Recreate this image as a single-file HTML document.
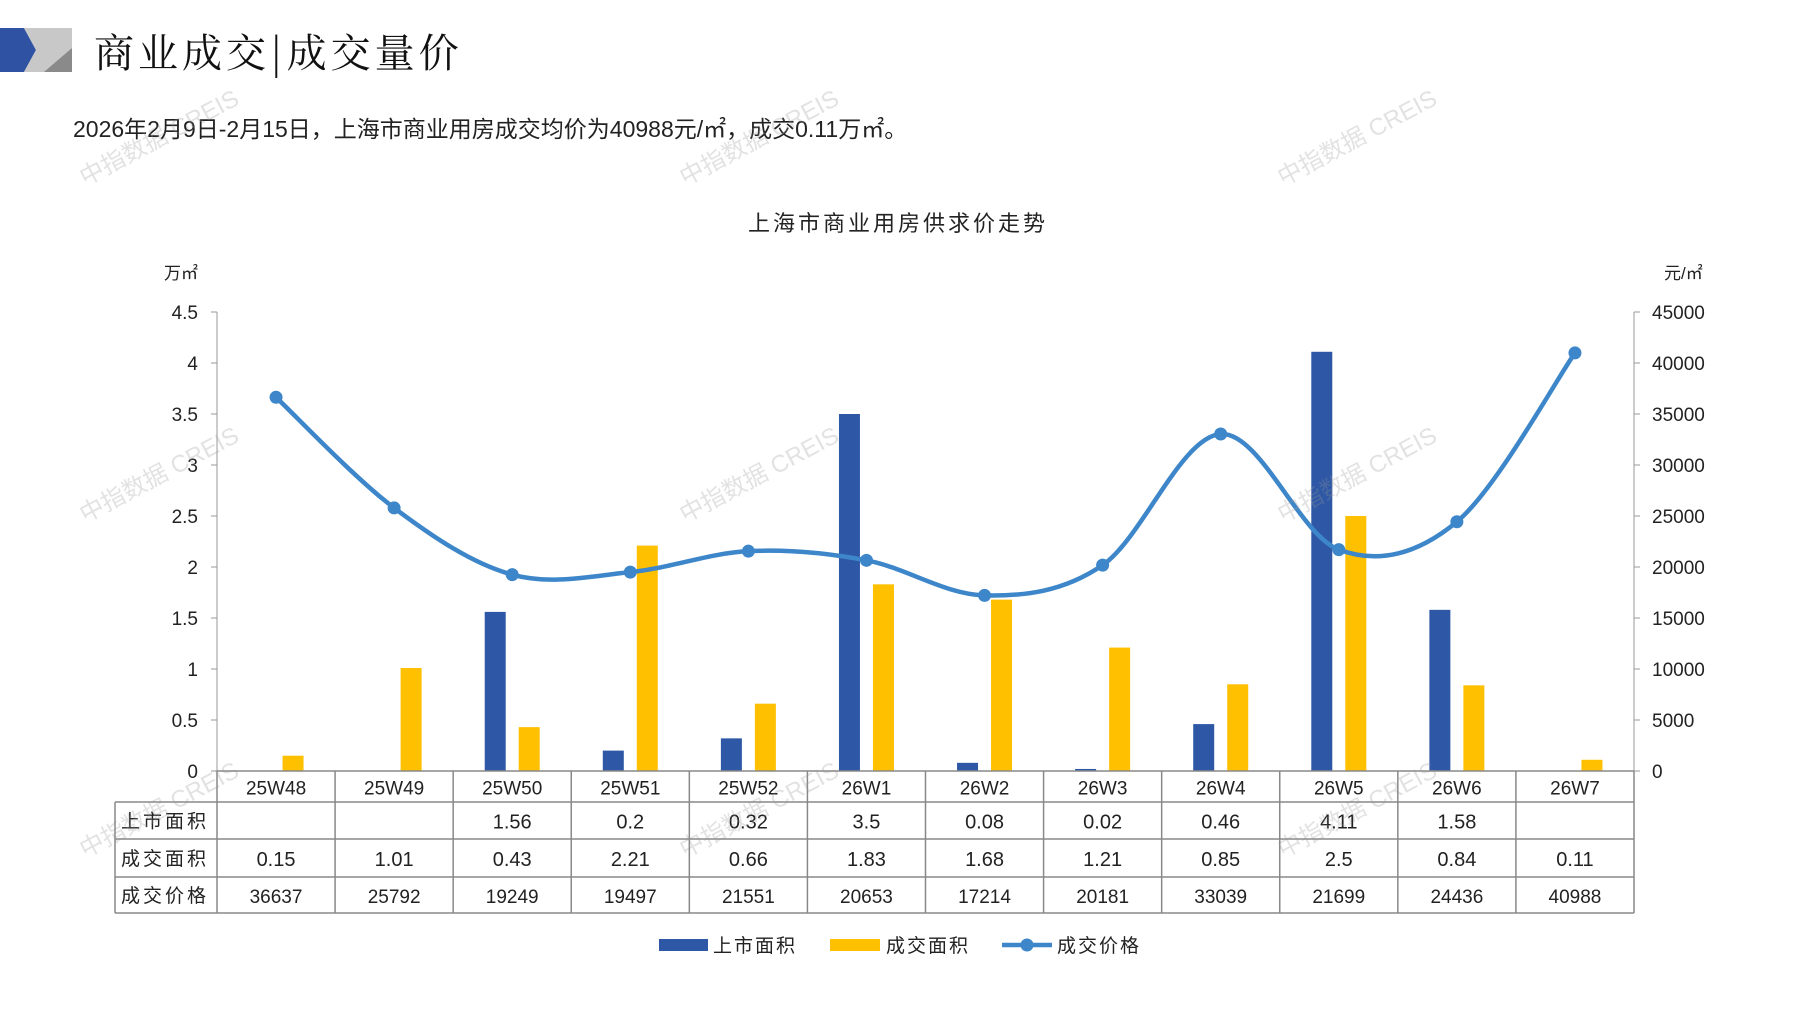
<!DOCTYPE html>
<html><head><meta charset="utf-8">
<style>
html,body{margin:0;padding:0;background:#fff;}
body{width:1797px;height:1010px;overflow:hidden;position:relative;font-family:"Liberation Sans","Noto Sans CJK SC",sans-serif;}
.wm{position:absolute;color:rgba(150,150,150,0.28);font-size:24px;transform:rotate(-28deg);white-space:nowrap;pointer-events:none;}
</style></head>
<body>
<svg style="position:absolute;left:0;top:28px" width="74" height="44">
<polygon points="0,0 24,0 36,22 24,44 0,44" fill="#2f52a3"/>
<polygon points="24,0 72,0 72,44 24,44 36,22" fill="#c8c8c8"/>
<polygon points="44,44 72,20 72,44" fill="#8a8a8a"/>
</svg>
<div style="position:absolute;left:94px;top:22px;font-size:40px;font-family:'Noto Serif CJK SC',serif;color:#111;letter-spacing:4px">商业成交|成交量价</div>
<div style="position:absolute;left:73px;top:110px;font-size:23px;color:#222;font-family:'Liberation Sans','Noto Sans CJK SC',sans-serif;">2026年2月9日-2月15日，上海市商业用房成交均价为40988元/㎡，成交0.11万㎡。</div>

<svg id="chart" style="position:absolute;left:0;top:0" width="1797" height="1010"></svg>

<div class="wm" style="left:70px;top:118px">中指数据 CREIS</div>
<div class="wm" style="left:670px;top:118px">中指数据 CREIS</div>
<div class="wm" style="left:1268px;top:118px">中指数据 CREIS</div>
<div class="wm" style="left:70px;top:455px">中指数据 CREIS</div>
<div class="wm" style="left:670px;top:455px">中指数据 CREIS</div>
<div class="wm" style="left:1268px;top:455px">中指数据 CREIS</div>
<div class="wm" style="left:70px;top:790px">中指数据 CREIS</div>
<div class="wm" style="left:670px;top:790px">中指数据 CREIS</div>
<div class="wm" style="left:1268px;top:790px">中指数据 CREIS</div>

<script>
const categories = ["25W48","25W49","25W50","25W51","25W52","26W1","26W2","26W3","26W4","26W5","26W6","26W7"];
const supply = [null,null,1.56,0.2,0.32,3.5,0.08,0.02,0.46,4.11,1.58,null];
const deals = [0.15,1.01,0.43,2.21,0.66,1.83,1.68,1.21,0.85,2.5,0.84,0.11];
const prices = [36637,25792,19249,19497,21551,20653,17214,20181,33039,21699,24436,40988];
const leftTicks = ["0","0.5","1","1.5","2","2.5","3","3.5","4","4.5"];
const rightTicks = ["0","5000","10000","15000","20000","25000","30000","35000","40000","45000"];

const NS="http://www.w3.org/2000/svg";
const svg=document.getElementById('chart');
const L=217, R=1634, Y0=771, YT=312;
const colW=(R-L)/categories.length;
const yL=v=>Y0-(v/4.5)*(Y0-YT);
const yR=v=>Y0-(v/45000)*(Y0-YT);
const xC=i=>L+colW*(i+0.5);
const F='"Liberation Sans","Noto Sans CJK SC",sans-serif';
function mk(tag,attrs,parent){const e=document.createElementNS(NS,tag);for(const k in attrs)e.setAttribute(k,attrs[k]);(parent||svg).appendChild(e);return e;}
function txt(s,x,y,size,anchor,name){const t=mk('text',{x:x,y:y,'font-size':size,'text-anchor':anchor||'middle','font-family':F,fill:'#222'});t.textContent=s;


return t;}

txt("上海市商业用房供求价走势",898,231,22,'middle','chart-title').setAttribute('letter-spacing','3');
txt("万㎡",164,279,17,'start','left-axis-unit');
txt("元/㎡",1664,279,17,'start','right-axis-unit');

let a=mk('line',{x1:L,y1:YT,x2:L,y2:Y0,stroke:'#999','stroke-width':1});

a=mk('line',{x1:R,y1:YT,x2:R,y2:Y0,stroke:'#999','stroke-width':1});

leftTicks.forEach((s,i)=>{const y=yL(parseFloat(s));
 mk('line',{x1:L-6,y1:y,x2:L,y2:y,stroke:'#999'});
 txt(s,198,y+7,19,'end','left-tick-label');});
rightTicks.forEach((s,i)=>{const y=yR(parseFloat(s));
 mk('line',{x1:R,y1:y,x2:R+6,y2:y,stroke:'#999'});
 txt(s,1652,y+7,19,'start','right-tick-label');});

const bw=21;
categories.forEach((c,i)=>{
 if(supply[i]!=null){const b=mk('rect',{x:xC(i)-17-bw/2,y:yL(supply[i]),width:bw,height:Y0-yL(supply[i]),fill:'#2e58a6'});
  }
 const d=mk('rect',{x:xC(i)+17-bw/2,y:yL(deals[i]),width:bw,height:Y0-yL(deals[i]),fill:'#ffc000'});
 
});

const pts=prices.map((v,i)=>[xC(i),yR(v)]);
let p='M'+pts[0][0]+','+pts[0][1];
for(let i=0;i<pts.length-1;i++){
 const p0=pts[i-1]||pts[i],p1=pts[i],p2=pts[i+1],p3=pts[i+2]||p2;const t=6;
 p+=` C${p1[0]+(p2[0]-p0[0])/t},${p1[1]+(p2[1]-p0[1])/t} ${p2[0]-(p3[0]-p1[0])/t},${p2[1]-(p3[1]-p1[1])/t} ${p2[0]},${p2[1]}`;
}
const ln=mk('path',{d:p,fill:'none',stroke:'#3d86c9','stroke-width':4.5});

pts.forEach((q,i)=>{const c=mk('circle',{cx:q[0],cy:q[1],r:6.5,fill:'#3d86c9'});
 });

const TL=115, rows=[771,802,839,877,913];
const g=mk('g',{stroke:'#888','stroke-width':1.5,fill:'none'});

mk('line',{x1:L,y1:rows[0],x2:R,y2:rows[0]},g);
for(let r=1;r<rows.length;r++)mk('line',{x1:TL,y1:rows[r],x2:R,y2:rows[r]},g);
mk('line',{x1:TL,y1:rows[1],x2:TL,y2:rows[4]},g);
for(let i=0;i<=categories.length;i++)mk('line',{x1:L+colW*i,y1:rows[0],x2:L+colW*i,y2:rows[4]},g);
const rowNames=["上市面积","成交面积","成交价格"];
rowNames.forEach((n,r)=>{const t=txt(n,121,(rows[r+1]+rows[r+2])/2+7,19,'start','table-row-label');t.setAttribute('letter-spacing','3');});
categories.forEach((c,i)=>{
 txt(c,xC(i),(rows[0]+rows[1])/2+8,19,'middle','category-label');
 if(supply[i]!=null)txt(String(supply[i]),xC(i),(rows[1]+rows[2])/2+8,20,'middle','supply-value');
 txt(String(deals[i]),xC(i),(rows[2]+rows[3])/2+8,20,'middle','deal-value');
 txt(String(prices[i]),xC(i),(rows[3]+rows[4])/2+8,19,'middle','price-value');
});

let lg=mk('rect',{x:659,y:939,width:49,height:12,fill:'#2e58a6'});

txt("上市面积",713,952,19,'start','legend-supply').setAttribute('letter-spacing','2');
lg=mk('rect',{x:830,y:939,width:50,height:12,fill:'#ffc000'});

txt("成交面积",886,952,19,'start','legend-deal').setAttribute('letter-spacing','2');
lg=mk('line',{x1:1002,y1:945,x2:1052,y2:945,stroke:'#3d86c9','stroke-width':4.5});

mk('circle',{cx:1027,cy:945,r:6.5,fill:'#3d86c9'});
txt("成交价格",1057,952,19,'start','legend-price').setAttribute('letter-spacing','2');
</script>
</body></html>
